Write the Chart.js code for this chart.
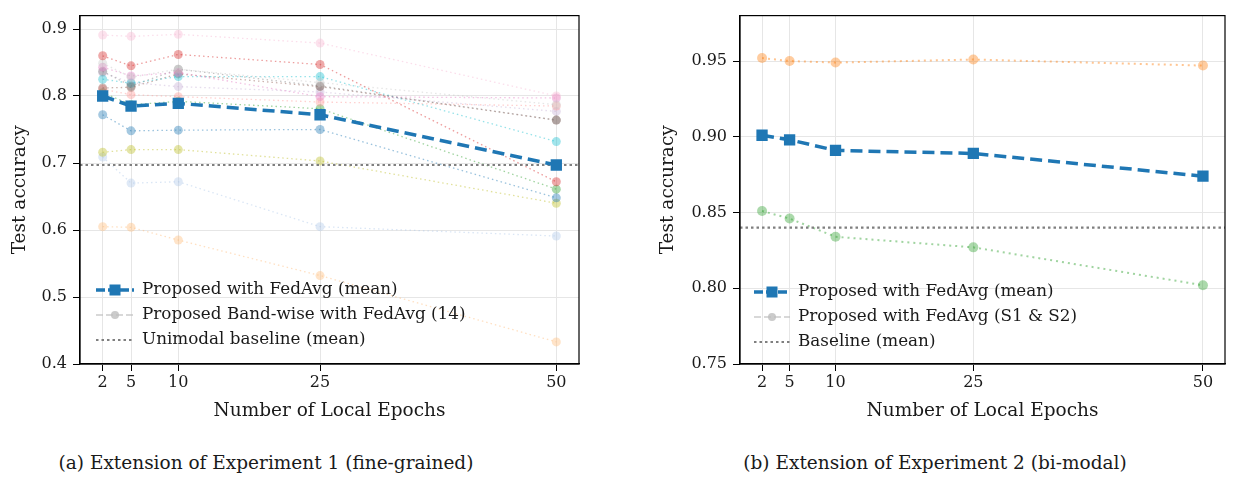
<!DOCTYPE html>
<html>
<head>
<meta charset="utf-8">
<script src="https://cdn.jsdelivr.net/npm/chart.js@4.4.1/dist/chart.umd.min.js"></script>
<style>
  body { margin: 0; background: #fff; width: 1233px; height: 483px; position: relative; overflow: hidden; font-family: 'DejaVu Serif', serif; }
  .box { position: absolute; top: 0; height: 430px; }
  .cap { position: absolute; top: 452px; font-size: 18.5px; color: #1a1a1a; text-align: center; white-space: nowrap; }
</style>
</head>
<body>
<div class="box" style="left:0;width:600px"><canvas id="expOne"></canvas></div>
<div class="box" style="left:620px;width:613px"><canvas id="expTwo"></canvas></div>
<div class="cap" style="left:0;width:532px">(a) Extension of Experiment 1 (fine-grained)</div>
<div class="cap" style="left:620px;width:630px">(b) Extension of Experiment 2 (bi-modal)</div>

<script>
// ---- data ----
const epochs = [2, 5, 10, 25, 50];

// Experiment 1 (fine-grained)
const meanOne = [0.800, 0.785, 0.789, 0.772, 0.697];
const baselineOne = 0.697;
const bandColors = [
  '247,182,210', '214,39,40', '199,199,199', '227,119,194', '127,127,127',
  '23,190,207', '140,86,75', '255,152,150', '44,160,44', '31,119,180',
  '188,189,34', '174,199,232', '255,187,120', '197,176,213'
];
const bandValues = [
  [0.891, 0.889, 0.892, 0.879, 0.800],
  [0.860, 0.845, 0.862, 0.847, 0.672],
  [0.849, 0.828, 0.840, 0.820, 0.787],
  [0.843, 0.830, 0.835, 0.799, 0.797],
  [0.837, 0.815, 0.840, 0.815, 0.764],
  [0.825, 0.819, 0.829, 0.829, 0.732],
  [0.812, 0.813, 0.833, 0.814, 0.764],
  [0.810, 0.802, 0.799, 0.791, 0.785],
  [0.805, 0.787, 0.792, 0.781, 0.661],
  [0.772, 0.748, 0.749, 0.750, 0.648],
  [0.716, 0.720, 0.720, 0.703, 0.640],
  [0.709, 0.670, 0.672, 0.605, 0.591],
  [0.605, 0.604, 0.585, 0.532, 0.433],
  [0.835, 0.820, 0.814, 0.806, 0.777]
];
const yTicksOne = [0.4, 0.5, 0.6, 0.7, 0.8, 0.9];

// Experiment 2 (bi-modal)
const meanTwo = [0.901, 0.898, 0.891, 0.889, 0.874];
const s1Two = [0.952, 0.950, 0.949, 0.951, 0.947];
const s2Two = [0.851, 0.846, 0.834, 0.827, 0.802];
const baselineTwo = 0.840;
const yTicksTwo = [0.75, 0.80, 0.85, 0.90, 0.95];

const X_MIN = -0.4, X_MAX = 52.4;
const FONT = 'DejaVu Serif';
const BLUE = '#1f77b4';
const INK = '#1a1a1a';

const pts = vals => epochs.map((x, i) => ({ x, y: vals[i] }));
const flat = v => [{ x: X_MIN, y: v }, { x: X_MAX, y: v }];

// ---- plugins ----
const frame = {
  id: 'frame',
  afterDraw(chart) {
    const { ctx, chartArea: a } = chart;
    ctx.save();
    ctx.strokeStyle = '#000'; ctx.lineWidth = 1.2;
    ctx.strokeRect(a.left, a.top, a.right - a.left, a.bottom - a.top);
    ctx.restore();
  }
};

const boxLegend = {
  id: 'boxLegend',
  afterDraw(chart, args, opts) {
    const { ctx } = chart;
    ctx.save();
    ctx.font = '16.8px "' + FONT + '"';
    ctx.textBaseline = 'middle';
    opts.items.forEach((it, i) => {
      const y = opts.y + i * opts.gap;
      ctx.strokeStyle = it.color; ctx.lineWidth = it.width;
      ctx.setLineDash(it.dash);
      ctx.beginPath(); ctx.moveTo(opts.x, y); ctx.lineTo(opts.x + opts.len, y); ctx.stroke();
      ctx.setLineDash([]);
      const cx = opts.x + opts.len / 2;
      if (it.point === 'rect') {
        ctx.fillStyle = it.pointColor; ctx.fillRect(cx - 5.5, y - 5.5, 11, 11);
      } else if (it.point === 'circle') {
        ctx.fillStyle = it.pointColor; ctx.beginPath(); ctx.arc(cx, y, 4, 0, Math.PI * 2); ctx.fill();
      }
      ctx.fillStyle = INK;
      ctx.fillText(it.label, opts.x + opts.len + 8, y);
    });
    ctx.restore();
  }
};

function axes(yMin, yMax, yTicks, digits, yWidth, titlePad) {
  const tickFont = { family: FONT, size: 16 };
  return {
    x: {
      type: 'linear', min: X_MIN, max: X_MAX,
      afterBuildTicks: s => { s.ticks = epochs.map(v => ({ value: v })); },
      afterFit: s => { s.height = 66; },
      grid: { color: '#e6e6e6', tickColor: '#000', tickLength: 7 },
      border: { color: '#000', width: 1.2 },
      ticks: { color: INK, font: tickFont, padding: 2, maxRotation: 0, callback: v => v },
      title: { display: true, text: 'Number of Local Epochs', color: INK, font: { family: FONT, size: 18.5 }, padding: { bottom: 8 } }
    },
    y: {
      min: yMin, max: yMax,
      afterBuildTicks: s => { s.ticks = yTicks.map(v => ({ value: v })); },
      afterFit: s => { s.width = yWidth; },
      grid: { color: '#e6e6e6', tickColor: '#000', tickLength: 7 },
      border: { color: '#000', width: 1.2 },
      ticks: { color: INK, font: tickFont, padding: 6, callback: v => v.toFixed(digits) },
      title: { display: true, text: 'Test accuracy', color: INK, font: { family: FONT, size: 18.5 }, padding: { top: titlePad } }
    }
  };
}

const meanStyle = {
  borderColor: BLUE, backgroundColor: BLUE, borderWidth: 3.5, borderDash: [12, 6],
  pointStyle: 'rect', pointRadius: 8, pointBorderWidth: 0, tension: 0
};
const baseStyle = {
  borderColor: '#7f7f7f', borderWidth: 2.2, borderDash: [2.5, 3], pointRadius: 0, tension: 0
};

// ---- (a) Experiment 1 ----
new Chart(document.getElementById('expOne'), {
  type: 'line',
  data: {
    datasets: [
      { label: 'Proposed with FedAvg (mean)', data: pts(meanOne), ...meanStyle },
      { label: 'Unimodal baseline (mean)', data: flat(baselineOne), ...baseStyle },
      ...bandValues.map((vals, i) => ({
        label: 'band ' + (i + 1), data: pts(vals),
        borderColor: `rgba(${bandColors[i]},0.45)`, backgroundColor: `rgba(${bandColors[i]},0.4)`,
        borderWidth: 1.3, borderDash: [1.5, 3], pointRadius: 4.5, pointBorderWidth: 0, tension: 0
      }))
    ]
  },
  options: {
    responsive: true, maintainAspectRatio: false, animation: false,
    layout: { padding: { top: 6, right: 21, left: 0, bottom: 0 } },
    plugins: {
      legend: { display: false }, tooltip: { enabled: false },
      boxLegend: {
        x: 96, y: 290, gap: 25, len: 38,
        items: [
          { label: 'Proposed with FedAvg (mean)', color: BLUE, width: 3.5, dash: [9, 3], point: 'rect', pointColor: BLUE },
          { label: 'Proposed Band-wise with FedAvg (14)', color: 'rgba(190,190,190,0.6)', width: 2, dash: [7, 3], point: 'circle', pointColor: 'rgba(190,190,190,0.8)' },
          { label: 'Unimodal baseline (mean)', color: '#7f7f7f', width: 2.2, dash: [2.5, 3] }
        ]
      }
    },
    scales: axes(0.4, 0.92, yTicksOne, 1, 80, 9)
  },
  plugins: [frame, boxLegend]
});

// ---- (b) Experiment 2 ----
new Chart(document.getElementById('expTwo'), {
  type: 'line',
  data: {
    datasets: [
      { label: 'Proposed with FedAvg (mean)', data: pts(meanTwo), ...meanStyle },
      { label: 'Baseline (mean)', data: flat(baselineTwo), ...baseStyle },
      { label: 'S1', data: pts(s1Two), borderColor: 'rgba(255,127,14,0.45)', backgroundColor: 'rgba(255,127,14,0.4)',
        borderWidth: 2, borderDash: [2, 4], pointRadius: 5, pointBorderWidth: 0, tension: 0 },
      { label: 'S2', data: pts(s2Two), borderColor: 'rgba(44,160,44,0.45)', backgroundColor: 'rgba(44,160,44,0.4)',
        borderWidth: 2, borderDash: [2, 4], pointRadius: 5, pointBorderWidth: 0, tension: 0 }
    ]
  },
  options: {
    responsive: true, maintainAspectRatio: false, animation: false,
    layout: { padding: { top: 6, right: 5, left: 0, bottom: 0 } },
    plugins: {
      legend: { display: false }, tooltip: { enabled: false },
      boxLegend: {
        x: 134, y: 292, gap: 25, len: 36,
        items: [
          { label: 'Proposed with FedAvg (mean)', color: BLUE, width: 3.5, dash: [9, 3], point: 'rect', pointColor: BLUE },
          { label: 'Proposed with FedAvg (S1 & S2)', color: 'rgba(190,190,190,0.6)', width: 2, dash: [7, 3], point: 'circle', pointColor: 'rgba(190,190,190,0.8)' },
          { label: 'Baseline (mean)', color: '#7f7f7f', width: 2.2, dash: [2.5, 3] }
        ]
      }
    },
    scales: axes(0.75, 0.98, yTicksTwo, 2, 120, 37)
  },
  plugins: [frame, boxLegend]
});
</script>
</body>
</html>
